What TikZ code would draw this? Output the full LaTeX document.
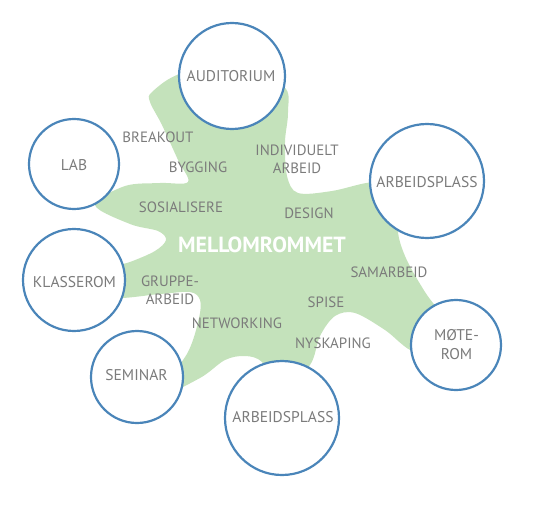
\documentclass[tikz,border=0pt]{standalone}
\usepackage{fontspec}
\setmainfont{PT Sans}
\definecolor{blobgreen}{HTML}{C4E2BB}
\definecolor{ringblue}{HTML}{4A85B9}
\definecolor{txtgray}{HTML}{7B7B7B}
\tikzset{
  room/.style={circle, draw=ringblue, line width=2.2pt, fill=white, inner sep=0pt},
  roomtxt/.style={text=txtgray, font=\fontsize{15.6}{19}\selectfont, align=center, inner sep=0pt},
  acttxt/.style={text=txtgray, font=\fontsize{15}{18}\selectfont, align=center, inner sep=0pt},
}
\begin{document}
\begin{tikzpicture}[x=1bp,y=-1bp]
\useasboundingbox (0,0) rectangle (543,508);
% green blob
\fill[blobgreen] plot[smooth cycle, tension=0.55] coordinates {
 (152,92) (180,74) (230,70) (283,86) (288,112) (285,142) (287,176) (298,193)
 (332,191) (375,182) (410,190) (398,226) (405,256) (425,292) (445,320) (450,345)
 (415,352) (385,330) (355,313) (335,316) (320,336) (310,365) (282,390)
 (262,362) (245,356) (225,360) (200,378) (160,395)
 (188,352) (199,318) (200,300) (190,292) (160,294) (110,297)
 (100,272) (130,262) (155,251) (166,240) (158,231) (130,224) (95,205)
 (125,186) (160,183) (188,182) (178,160) (162,125) (150,102)
};
% rooms
\node[room, minimum size=106bp] (aud) at (232,76) {};
\node[room, minimum size=90bp]  (lab) at (74,164) {};
\node[room, minimum size=114bp] (arbr) at (427,181) {};
\node[room, minimum size=102bp] (kla) at (74,280) {};
\node[room, minimum size=92bp]  (sem) at (137,377) {};
\node[room, minimum size=114bp] (arbb) at (282,418) {};
\node[room, minimum size=90bp]  (mote) at (456,345) {};
\node[roomtxt] (taud) at (231,76) {AUDITORIUM};
\node[roomtxt] (tlab) at (74,165) {LAB};
\node[roomtxt] (tarbr) at (427,182) {ARBEIDSPLASS};
\node[roomtxt] (tkla) at (74.5,282.5) {KLASSEROM};
\node[roomtxt] (tsem) at (136.5,375) {SEMINAR};
\node[roomtxt] (tarbb) at (283,417) {ARBEIDSPLASS};
\node[roomtxt] (tmote) at (456.5,345) {MØTE-\\ROM};
% activities
\node[acttxt] (brk) at (158,137) {BREAKOUT};
\node[acttxt] (byg) at (198,167) {BYGGING};
\node[acttxt] (ind) at (297,159) {INDIVIDUELT\\ARBEID};
\node[acttxt] (sos) at (181,207) {SOSIALISERE};
\node[acttxt] (des) at (309,213) {DESIGN};
\node[acttxt] (sam) at (389,272) {SAMARBEID};
\node[acttxt] (gru) at (170,290) {GRUPPE-\\ARBEID};
\node[acttxt] (spi) at (326,302) {SPISE};
\node[acttxt] (net) at (237,323) {NETWORKING};
\node[acttxt] (nys) at (333,343) {NYSKAPING};
\node[text=white, font=\bfseries\fontsize{22}{24}\selectfont, inner sep=0pt] (mel) at (262,245) {MELLOMROMMET};
\end{tikzpicture}
\end{document}
